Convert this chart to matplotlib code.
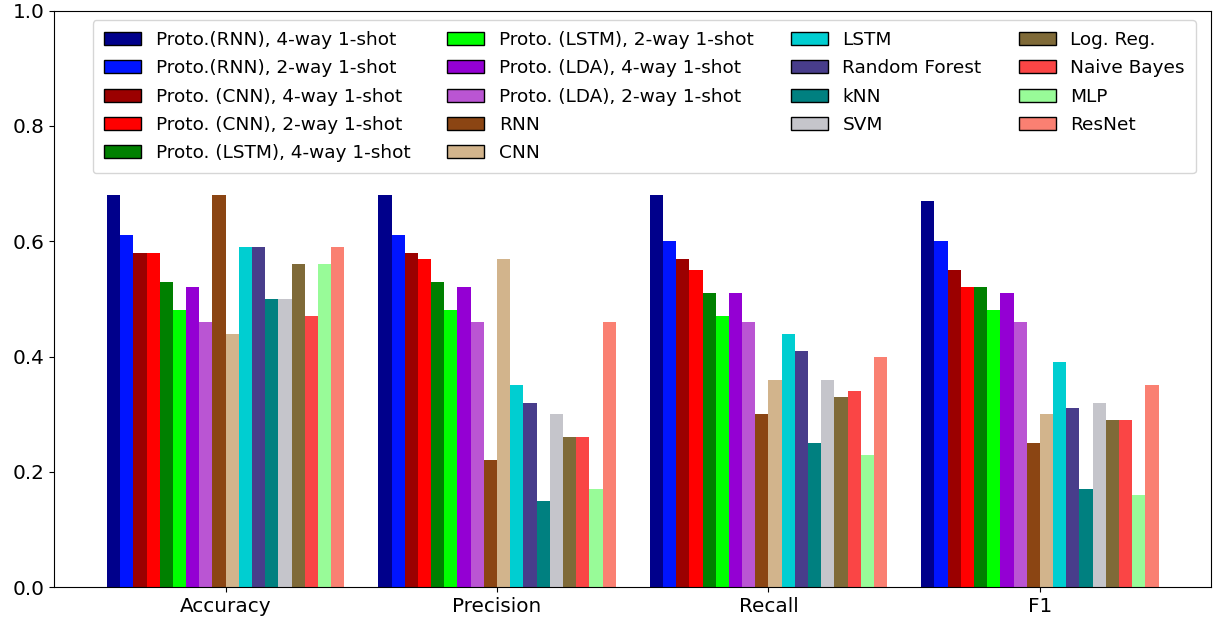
import matplotlib
matplotlib.use("Agg")
import matplotlib.pyplot as plt
import numpy as np
from matplotlib.patches import Patch

# ---------------- data ----------------
metrics = ["Accuracy", "Precision", "Recall", "F1"]

models = [
    "Proto.(RNN), 4-way 1-shot",
    "Proto.(RNN), 2-way 1-shot",
    "Proto. (CNN), 4-way 1-shot",
    "Proto. (CNN), 2-way 1-shot",
    "Proto. (LSTM), 4-way 1-shot",
    "Proto. (LSTM), 2-way 1-shot",
    "Proto. (LDA), 4-way 1-shot",
    "Proto. (LDA), 2-way 1-shot",
    "RNN",
    "CNN",
    "LSTM",
    "Random Forest",
    "kNN",
    "SVM",
    "Log. Reg.",
    "Naive Bayes",
    "MLP",
    "ResNet",
]

accuracy = [0.68, 0.61, 0.58, 0.58, 0.53, 0.48, 0.52, 0.46, 0.68,
            0.44, 0.59, 0.59, 0.50, 0.50, 0.56, 0.47, 0.56, 0.59]
precision = [0.68, 0.61, 0.58, 0.57, 0.53, 0.48, 0.52, 0.46, 0.22,
             0.57, 0.35, 0.32, 0.15, 0.30, 0.26, 0.26, 0.17, 0.46]
recall = [0.68, 0.60, 0.57, 0.55, 0.51, 0.47, 0.51, 0.46, 0.30,
          0.36, 0.44, 0.41, 0.25, 0.36, 0.33, 0.34, 0.23, 0.40]
f1 = [0.67, 0.60, 0.55, 0.52, 0.52, 0.48, 0.51, 0.46, 0.25,
      0.30, 0.39, 0.31, 0.17, 0.32, 0.29, 0.29, 0.16, 0.35]

colors = [
    "#00008B", "#0014FF", "#9B0000", "#FF0000", "#008000", "#00FF00",
    "#9400D3", "#BA55D3", "#8B4513", "#D2B48C", "#00CED1", "#483D8B",
    "#008080", "#C5C5CB", "#7F6A38", "#FA4545", "#98FB98", "#FA8072",
]

# ---------------- plot ----------------
scores = np.array([accuracy, precision, recall, f1])  # metric x model
n_models = len(models)
x = np.arange(len(metrics))
w = 0.875 / n_models

fig = plt.figure(figsize=(12.21, 6.26), dpi=100)
ax = fig.add_axes([0.0445, 0.062, 0.9475, 0.921])

for i, (name, col) in enumerate(zip(models, colors)):
    offset = (i - (n_models - 1) / 2) * w
    ax.bar(x + offset, scores[:, i], width=w, color=col, linewidth=0, label=name)

ax.set_ylim(0, 1.0)
ax.set_yticks(np.arange(0, 1.01, 0.2))
ax.set_xticks(x)
ax.set_xticklabels(metrics)
ax.tick_params(axis="both", labelsize=14.4)

handles = [Patch(facecolor=c, edgecolor="black", label=m) for m, c in zip(models, colors)]
ax.legend(handles=handles, loc="upper center", ncol=4, fontsize=13.3,
          bbox_to_anchor=(0.51, 1.0), labelspacing=0.56, borderpad=0.6)

fig.savefig("out.png", dpi=100, facecolor="white")
